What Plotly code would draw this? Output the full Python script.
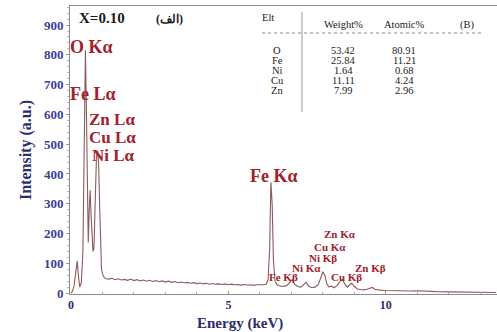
import plotly.graph_objects as go

# EDS spectrum, sample X=0.10
energy_kev = [
    0.00, 0.05, 0.10, 0.15, 0.20, 0.24, 0.28, 0.33, 0.38, 0.42, 0.46, 0.49,
    0.52, 0.55, 0.58, 0.61, 0.64, 0.67, 0.70, 0.73, 0.77, 0.81, 0.85, 0.88,
    0.91, 0.94, 0.97, 1.01, 1.06, 1.12,
    1.2, 1.3, 1.4, 1.5, 1.6, 1.7, 1.8, 1.9, 2.0, 2.1, 2.2, 2.3, 2.4, 2.5,
    2.6, 2.7, 2.8, 2.9, 3.0, 3.1, 3.2, 3.3, 3.4, 3.5, 3.6, 3.7, 3.8, 3.9,
    4.0, 4.1, 4.2, 4.3, 4.4, 4.5, 4.6, 4.7, 4.8, 4.9, 5.0, 5.1, 5.2, 5.3,
    5.4, 5.5, 5.6, 5.7, 5.8, 5.9, 6.0, 6.1, 6.2,
    6.26, 6.31, 6.35, 6.39, 6.43, 6.48, 6.55, 6.62, 6.70,
    6.85, 6.95, 7.03, 7.10, 7.20,
    7.30, 7.40, 7.47, 7.55, 7.65, 7.75, 7.85,
    7.93, 8.00, 8.06, 8.13, 8.20, 8.27, 8.35,
    8.45, 8.55, 8.62, 8.70, 8.78, 8.85, 8.92, 9.00, 9.10, 9.20, 9.30, 9.40,
    9.50, 9.57, 9.65, 9.80, 10.0, 10.2, 10.5, 10.8, 11.0, 11.3, 11.6, 12.0,
    12.5, 13.0, 13.5,
]
intensity = [
    0, 6, 25, 60, 108, 55, 20, 35, 140, 480, 815, 620,
    300, 170, 280, 345, 260, 170, 140, 150, 320, 455, 478, 430,
    300, 150, 80, 62, 52, 48,
    47, 50, 45, 48, 44, 46, 43, 47, 42, 45, 41, 44, 40, 43,
    39, 42, 38, 41, 37, 40, 36, 39, 35, 37, 34, 36, 33, 35,
    32, 34, 31, 33, 30, 32, 30, 31, 29, 31, 28, 30, 28, 29,
    27, 29, 27, 28, 26, 28, 27, 28, 30,
    45, 150, 372, 300, 110, 40, 28, 25, 22,
    25, 38, 45, 30, 22,
    20, 30, 36, 24, 18, 20, 28,
    50, 72, 60, 30, 20, 24, 18,
    25, 40, 46, 30, 20, 28, 33, 22, 14, 12, 11, 13,
    17, 19, 13, 10, 9, 8, 9, 7, 8, 6, 5, 4,
    3, 3, 2,
]

x_ticks = [0, 5, 10]
y_ticks = [0, 100, 200, 300, 400, 500, 600, 700, 800, 900]

# Composition table
elements = ["O", "Fe", "Ni", "Cu", "Zn"]
weight_pct = ["53.42", "25.84", "1.64", "11.11", "7.99"]
atomic_pct = ["80.91", "11.21", "0.68", "4.24", "2.96"]

# Peak labels: (text, left px, centre-y px, size)
peak_labels = [
    ("O Kα", 68, 47, 18), ("Fe Lα", 68, 94, 18), ("Zn Lα", 87, 119, 17),
    ("Cu Lα", 87, 137, 17), ("Ni Lα", 90, 155, 17), ("Fe Kα", 248, 176, 18),
    ("Zn Kα", 322, 234, 11), ("Cu Kα", 312, 247, 11), ("Ni Kβ", 307, 258, 11),
    ("Ni Kα", 290, 268, 11), ("Zn Kβ", 353, 268, 11), ("Fe Kβ", 267, 277, 11),
    ("Cu Kβ", 329, 277, 11),
]

W, H = 497, 332
L, T, R, B = 70, 6, 0, 38
PW, PH = W - L - R, H - T - B

def px(x, y):
    return (x - L) / PW, (H - B - y) / PH

SERIF = "Liberation Serif"
RED = "#a3202c"
NAVY = "#2d2d6e"

fig = go.Figure()
fig.add_trace(go.Scatter(
    x=energy_kev, y=intensity, mode="lines",
    line=dict(color="#8b5a5a", width=1.1), hoverinfo="skip",
))

ann = []
for text, x0, y0, size in peak_labels:
    xp, yp = px(x0, y0)
    ann.append(dict(x=xp, y=yp, xref="paper", yref="paper", text=text,
                    showarrow=False, xanchor="left", yanchor="middle",
                    font=dict(family=SERIF, size=size, color=RED, weight="bold")))

def add_text(text, x0, y0, size, color="#1a1a1a", anchor="center", weight="normal"):
    xp, yp = px(x0, y0)
    ann.append(dict(x=xp, y=yp, xref="paper", yref="paper", text=text,
                    showarrow=False, xanchor=anchor, yanchor="middle",
                    font=dict(family=SERIF, size=size, color=color, weight=weight)))

add_text("X=0.10", 77, 18, 15, "#1a1a1a", "left", "bold")
add_text("(الف)", 169, 19, 12, "#1a1a1a", "center", "bold")

add_text("Elt", 268, 18, 10.5)
add_text("Weight%", 343, 25, 10.5)
add_text("Atomic%", 404, 25, 10.5)
add_text("(B)", 467, 25, 10.5)
row_y = [50, 60, 70, 81, 91]
for el, w, a, ry in zip(elements, weight_pct, atomic_pct, row_y):
    add_text(el, 277, ry, 10.5)
    add_text(w, 343, ry, 10.5)
    add_text(a, 404, ry, 10.5)

add_text("Energy (keV)", 240, 323, 15, NAVY, "center", "bold")

shapes = []
hx0, hy = px(262, 33)
hx1, _ = px(482, 33)
shapes.append(dict(type="line", xref="paper", yref="paper", x0=hx0, x1=hx1,
                   y0=hy, y1=hy, line=dict(color="#888", width=1, dash="dot")))
vx, vy0 = px(302, 12)
_, vy1 = px(302, 112)
shapes.append(dict(type="line", xref="paper", yref="paper", x0=vx, x1=vx,
                   y0=vy0, y1=vy1, line=dict(color="#999", width=1)))

fig.update_layout(
    width=W, height=H,
    margin=dict(l=L, r=R, t=T, b=B),
    paper_bgcolor="white", plot_bgcolor="white",
    showlegend=False,
    annotations=ann, shapes=shapes,
    xaxis=dict(
        range=[-0.03, 13.53], tickvals=x_ticks, ticktext=[str(v) for v in x_ticks],
        showgrid=False, zeroline=False, showline=True, linecolor="#8a8a8a",
        linewidth=1, mirror=True, ticks="inside", ticklen=3, tickcolor="#999",
        tickfont=dict(family=SERIF, size=12, color=NAVY, weight="bold"),
        minor=dict(dtick=1, ticks="inside", ticklen=2, tickcolor="#aaa"),
    ),
    yaxis=dict(
        range=[-3, 964], tickvals=y_ticks, ticktext=[str(v) for v in y_ticks],
        showgrid=False, zeroline=False, showline=True, linecolor="#8a8a8a",
        linewidth=1, ticks="outside", ticklen=3, tickcolor="#999",
        tickfont=dict(family=SERIF, size=13, color="#3d3d99", weight="bold"),
        minor=dict(dtick=20, ticks="outside", ticklen=2, tickcolor="#bbb"),
        title=dict(text="Intensity (a.u.)", standoff=8,
                   font=dict(family=SERIF, size=16, color=NAVY, weight="bold")),
    ),
)

fig.write_html("out.html")
